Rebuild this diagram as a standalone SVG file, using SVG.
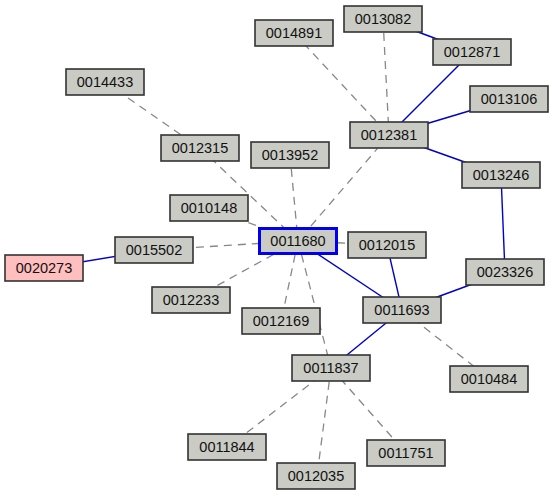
<svg xmlns="http://www.w3.org/2000/svg" width="554" height="497" viewBox="0 0 554 497">
<style>
.n rect{fill:#c9cbc4;stroke:#333;stroke-width:1.6}
.n text{font-family:"Liberation Sans",Arial,sans-serif;font-size:14.5px;fill:#111;text-anchor:middle}
.s{stroke:#0000cc;stroke-width:1.4;fill:none}
.d{stroke:#888;stroke-width:1.3;stroke-dasharray:8,6;fill:none}
</style>
<rect width="554" height="497" fill="#fff"/>
<g id="edges">
<line class="d" x1="294" y1="33" x2="389" y2="135"/>
<line class="d" x1="383" y1="19" x2="389" y2="135"/>
<line class="d" x1="389" y1="135" x2="298" y2="241"/>
<line class="d" x1="105" y1="82" x2="200" y2="148"/>
<line class="d" x1="200" y1="148" x2="298" y2="241"/>
<line class="d" x1="290" y1="155" x2="298" y2="241"/>
<line class="d" x1="209" y1="208" x2="298" y2="241"/>
<line class="d" x1="154" y1="250" x2="298" y2="241"/>
<line class="d" x1="387" y1="245" x2="298" y2="241"/>
<line class="d" x1="298" y1="241" x2="191" y2="300"/>
<line class="d" x1="298" y1="241" x2="281" y2="322"/>
<line class="d" x1="298" y1="241" x2="331" y2="368"/>
<line class="d" x1="402" y1="310" x2="490" y2="379"/>
<line class="d" x1="331" y1="368" x2="228" y2="447"/>
<line class="d" x1="331" y1="368" x2="317" y2="476"/>
<line class="d" x1="331" y1="368" x2="406" y2="453"/>
<line class="s" x1="45" y1="268" x2="154" y2="250"/>
<line class="s" x1="383" y1="19" x2="472" y2="52"/>
<line class="s" x1="472" y1="52" x2="389" y2="135"/>
<line class="s" x1="509" y1="99" x2="389" y2="135"/>
<line class="s" x1="389" y1="135" x2="501" y2="175"/>
<line class="s" x1="501" y1="175" x2="505" y2="272"/>
<line class="s" x1="505" y1="272" x2="402" y2="310"/>
<line class="s" x1="387" y1="245" x2="402" y2="310"/>
<line class="s" x1="298" y1="241" x2="402" y2="310"/>
<line class="s" x1="402" y1="310" x2="331" y2="368"/>
</g>
<g id="n0013082" class="n"><rect x="344" y="6" width="78" height="26"/><text x="383" y="24">0013082</text></g>
<g id="n0012871" class="n"><rect x="433" y="39" width="78" height="26"/><text x="472" y="57">0012871</text></g>
<g id="n0014891" class="n"><rect x="255" y="20" width="78" height="26"/><text x="294" y="38">0014891</text></g>
<g id="n0013106" class="n"><rect x="470" y="86" width="78" height="26"/><text x="509" y="104">0013106</text></g>
<g id="n0014433" class="n"><rect x="66" y="69" width="78" height="26"/><text x="105" y="87">0014433</text></g>
<g id="n0012381" class="n"><rect x="350" y="122" width="78" height="26"/><text x="389" y="140">0012381</text></g>
<g id="n0012315" class="n"><rect x="161" y="135" width="78" height="26"/><text x="200" y="153">0012315</text></g>
<g id="n0013952" class="n"><rect x="251" y="142" width="78" height="26"/><text x="290" y="160">0013952</text></g>
<g id="n0013246" class="n"><rect x="462" y="162" width="78" height="26"/><text x="501" y="180">0013246</text></g>
<g id="n0010148" class="n"><rect x="170" y="195" width="78" height="26"/><text x="209" y="213">0010148</text></g>
<g id="n0011680" class="n"><rect x="259.5" y="228.5" width="77" height="25" style="stroke:#0000ee;stroke-width:3"/><text x="298" y="246">0011680</text></g>
<g id="n0012015" class="n"><rect x="348" y="232" width="78" height="26"/><text x="387" y="250">0012015</text></g>
<g id="n0015502" class="n"><rect x="115" y="237" width="78" height="26"/><text x="154" y="255">0015502</text></g>
<g id="n0020273" class="n"><rect x="5" y="255" width="78" height="26" style="fill:#ffbfbf"/><text x="44" y="273">0020273</text></g>
<g id="n0023326" class="n"><rect x="466" y="259" width="78" height="26"/><text x="505" y="277">0023326</text></g>
<g id="n0012233" class="n"><rect x="152" y="287" width="78" height="26"/><text x="191" y="305">0012233</text></g>
<g id="n0011693" class="n"><rect x="363" y="297" width="78" height="26"/><text x="402" y="315">0011693</text></g>
<g id="n0012169" class="n"><rect x="242" y="308" width="78" height="26"/><text x="281" y="326">0012169</text></g>
<g id="n0011837" class="n"><rect x="292" y="355" width="78" height="26"/><text x="331" y="373">0011837</text></g>
<g id="n0010484" class="n"><rect x="450" y="366" width="78" height="26"/><text x="489" y="384">0010484</text></g>
<g id="n0011844" class="n"><rect x="188" y="434" width="78" height="26"/><text x="227" y="452">0011844</text></g>
<g id="n0011751" class="n"><rect x="367" y="440" width="78" height="26"/><text x="406" y="458">0011751</text></g>
<g id="n0012035" class="n"><rect x="277" y="463" width="78" height="26"/><text x="316" y="481">0012035</text></g>
</svg>
